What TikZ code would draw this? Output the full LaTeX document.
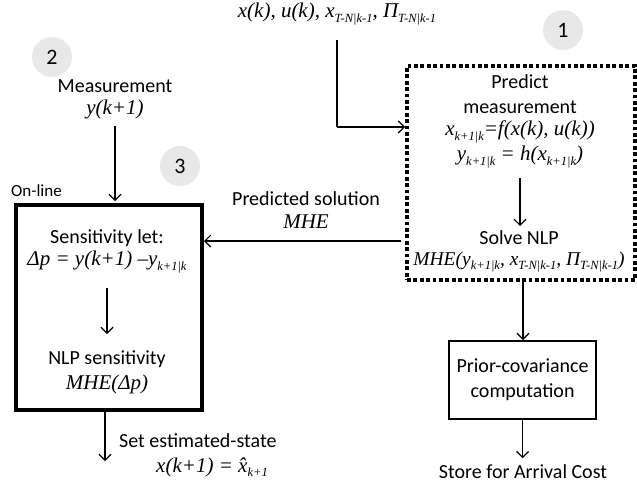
\documentclass[tikz,border=0pt]{standalone}
\usepackage{fontspec}
\setmainfont{Carlito}
\newfontfamily\tmsfam{Liberation Serif}
\usetikzlibrary{arrows.meta}
\newcommand\sbs[1]{\raisebox{-0.45ex}{\fontsize{12.5}{12.5}\selectfont #1}}
\begin{document}
\begin{tikzpicture}[x=1pt,y=-1pt,
  txt/.style={font=\fontsize{20}{24}\selectfont, inner sep=0pt, align=center},
  mth/.style={font=\fontsize{21}{24}\selectfont\tmsfam\itshape, inner sep=0pt, align=center},
  badge/.style={circle, fill=black!9, minimum size=40pt, inner sep=0pt, font=\fontsize{22}{22}\selectfont},
  arr/.style={-{Straight Barb[length=6pt,width=12pt]}, line width=1.2pt},
  ln/.style={line width=1.2pt}]
\useasboundingbox (0,0) rectangle (637,488);

% top input
\node[mth] (inp) at (337,14) {x(k), u(k), x\sbs{T-N|k-1}, \textit{Π}\sbs{T-N|k-1}};
\coordinate (inpb) at (337,40);
\coordinate (inpc) at (337,127);

% box 1 (dotted)
\node[draw, line width=3.8pt, dash pattern=on 3.8pt off 2.6pt, minimum width=228pt, minimum height=214pt, anchor=north west, inner sep=0pt] (pred) at (405,64) {};
\node[badge] (b1) at (563,30) {1};
\node[txt] (t1) at (520,82) {Predict};
\node[txt] (t2) at (520,107) {measurement};
\node[mth] (t3) at (520,132) {x\sbs{k+1|k}=f(x(k), u(k))};
\node[mth] (t4) at (520,157) {y\sbs{k+1|k} = h(x\sbs{k+1|k})};
\coordinate (a1s) at (520,178);
\coordinate (a1e) at (520,226);
\node[txt] (t5) at (519,238) {Solve NLP};
\node[mth, font=\fontsize{19.5}{22}\selectfont\tmsfam\itshape] (t6) at (519,262) {MHE(y\sbs{k+1|k}, x\sbs{T-N|k-1}, \textit{Π}\sbs{T-N|k-1})};

% prior covariance
\node[draw, line width=2.2pt, minimum width=147pt, minimum height=78pt, anchor=north west, inner sep=0pt, txt] (prior) at (448,340) {};
\node[txt] at (prior.center) {Prior-covariance\\[1pt]computation};
\node[txt] (store) at (523,472) {Store for Arrival Cost};
\coordinate (predbot) at (523,278);
\coordinate (priortop) at (523,340);

% measurement
\node[badge] (b2) at (52,57) {2};
\node[txt] (meas) at (115,86) {Measurement};
\node[mth] (ymeas) at (115,109) {y(k+1)};
\coordinate (ymb) at (115,126);

% online box
\node[draw, line width=4.2pt, minimum width=186pt, minimum height=205pt, anchor=north west, inner sep=0pt] (onl) at (14,203) {};
\node[txt, anchor=south west, font=\fontsize{17}{18}\selectfont] (online) at (11,197) {On-line};
\node[badge] (b3) at (180,166) {3};
\node[txt] (s1) at (107,238) {Sensitivity let:};
\node[mth] (s2) at (107,262) {Δp = y(k+1) –y\sbs{k+1|k}};
\coordinate (a3s) at (107,288);
\coordinate (a3e) at (107,334);
\node[txt] (s3) at (107,359) {NLP sensitivity};
\node[mth] (s4) at (107,384) {MHE(Δp)};

% predicted solution
\node[txt] (ps1) at (306,199) {Predicted solution};
\node[mth] (ps2) at (306,222) {MHE};
\coordinate (psr) at (401,241);
\coordinate (psl) at (204,241);

% set estimated state
\coordinate (onlb) at (105,410);
\coordinate (estend) at (105,461);
\node[txt, anchor=west] (est1) at (119,441) {Set estimated-state};
\node[mth] (est2) at (212,467) {x(k+1) = \^{x}\sbs{k+1}};

% connectors
\draw[ln] (inpb) -- (inpc);
\draw[arr] (inpc) -- (pred.west |- inpc);
\draw[arr] (a1s) -- (a1e);
\draw[arr] (predbot) -- (priortop);
\draw[arr] (prior.south) -- ++(0,38);
\draw[arr] (ymb) -- (115,201);
\draw[arr] (a3s) -- (a3e);
\draw[arr] (psr) -- (psl);
\draw[arr] (onlb) -- (estend);
\end{tikzpicture}
\end{document}
